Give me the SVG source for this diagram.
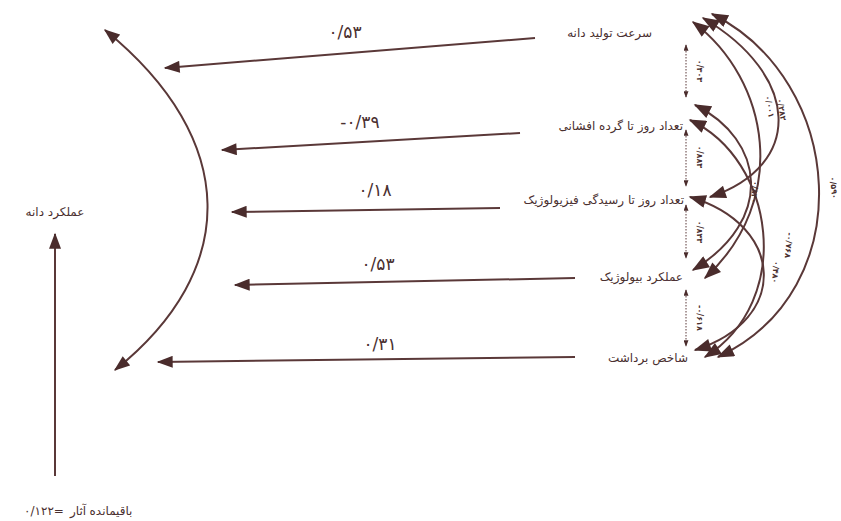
<svg xmlns="http://www.w3.org/2000/svg" width="841" height="521" viewBox="0 0 841 521">
<style>
.lbl{font-family:"DejaVu Sans",sans-serif;font-size:12px;fill:#4a3030}
.val{font-family:"DejaVu Sans",sans-serif;font-size:17px;fill:#4a3030;text-anchor:middle}
.sm{font-family:"DejaVu Sans",sans-serif;font-size:8px;fill:#4a3030;text-anchor:middle;font-weight:bold}
.ln{fill:none;stroke:#5a3838;stroke-width:2}
.cv{fill:none;stroke:#5a3838;stroke-width:2;marker-start:url(#ah);marker-end:url(#ah)}
.dt{fill:none;stroke:#5a3838;stroke-width:1;stroke-dasharray:1.5 1.5;marker-start:url(#sa);marker-end:url(#sa)}
</style>
<defs>
<marker id="ah" viewBox="0 0 12 9" refX="11" refY="4.5" markerWidth="18" markerHeight="13" markerUnits="userSpaceOnUse" orient="auto-start-reverse"><path d="M0,0 L12,4.5 L0,9 z" fill="#4a2c2c"/></marker>
<marker id="bh" viewBox="0 0 12 9" refX="11" refY="4.5" markerWidth="17" markerHeight="12" markerUnits="userSpaceOnUse" orient="auto-start-reverse"><path d="M0,0 L12,4.5 L0,9 z" fill="#4a2c2c"/></marker>
<marker id="sa" viewBox="0 0 8 6" refX="7" refY="3" markerWidth="7" markerHeight="5" markerUnits="userSpaceOnUse" orient="auto-start-reverse"><path d="M0,0 L8,3 L0,6 z" fill="#4a2c2c"/></marker>
</defs>
<rect width="841" height="521" fill="#ffffff"/>

<g id="connectors">
  <path class="ln" d="M105,30 C240,140 240,270 115,370" marker-start="url(#bh)" marker-end="url(#bh)"/>
  <path class="ln" d="M55,476 L55,234" marker-end="url(#bh)"/>
  <path class="ln" d="M535,38 L165,68" marker-end="url(#bh)"/>
  <path class="ln" d="M520,133 L222,150" marker-end="url(#bh)"/>
  <path class="ln" d="M500,208 L232,212" marker-end="url(#bh)"/>
  <path class="ln" d="M575,278 L235,285" marker-end="url(#bh)"/>
  <path class="ln" d="M575,357 L158,362" marker-end="url(#bh)"/>

  <path class="dt" d="M686,45 L686,97"/>
  <path class="dt" d="M686,130 L686,186"/>
  <path class="dt" d="M686,205 L686,258"/>
  <path class="dt" d="M686,290 L686,346"/>

  <path class="cv" d="M712,14 C845,80 862,290 718,357"/>
  <path class="cv" d="M693,22 C770,80 790,200 705,278"/>
  <path class="cv" d="M703,18 C800,75 805,165 710,197"/>
  <path class="cv" d="M695,105 C765,140 775,220 693,270"/>
  <path class="cv" d="M690,120 C775,160 795,300 705,357"/>
  <path class="cv" d="M690,197 C785,225 790,320 695,350"/>

  <text class="val" x="345" y="38">۰/۵۳</text>
  <text class="val" x="360" y="128">-۰/۳۹</text>
  <text class="val" x="375" y="196">۰/۱۸</text>
  <text class="val" x="378" y="270">۰/۵۳</text>
  <text class="val" x="380" y="350">۰/۳۱</text>

  <text class="sm" transform="translate(697,71) rotate(90)">۰/۳۰۳</text>
  <text class="sm" transform="translate(697,157) rotate(90)">۰/۸۸۳</text>
  <text class="sm" transform="translate(697,232) rotate(90)">۰/۸۴۳</text>
  <text class="sm" transform="translate(697,318) rotate(90)">-۰/۶۱۸</text>
  <text class="sm" transform="translate(767,107) rotate(80)">۰/۰۰۱</text>
  <text class="sm" transform="translate(779,110) rotate(80)">۰/۲۸۲</text>
  <text class="sm" transform="translate(831,188) rotate(85)">۰/۵۹۰</text>
  <text class="sm" transform="translate(752,192) rotate(95)">۰/۸۴۰</text>
  <text class="sm" transform="translate(786,245) rotate(95)">-۰/۷۶۸</text>
  <text class="sm" transform="translate(773,272) rotate(95)">۰/۴۸۰</text>
</g>

<g id="n-yield"><text class="lbl" x="55" y="216" text-anchor="middle">عملکرد دانه</text></g>
<g id="n-residual">
  <text class="lbl" x="44" y="515" text-anchor="middle">۰/۱۲۲=</text>
  <text class="lbl" x="78" y="515" text-anchor="middle">آثار</text>
  <text class="lbl" x="111" y="515" text-anchor="middle">باقیمانده</text>
</g>
<g id="n1"><text class="lbl" x="652" y="37" text-anchor="end">سرعت تولید دانه</text></g>
<g id="n2"><text class="lbl" x="683" y="130" text-anchor="end">تعداد روز تا گرده افشانی</text></g>
<g id="n3"><text class="lbl" x="684" y="204" text-anchor="end">تعداد روز تا رسیدگی فیزیولوژیک</text></g>
<g id="n4"><text class="lbl" x="683" y="281" text-anchor="end">عملکرد بیولوژیک</text></g>
<g id="n5"><text class="lbl" x="688" y="362" text-anchor="end">شاخص برداشت</text></g>
</svg>
